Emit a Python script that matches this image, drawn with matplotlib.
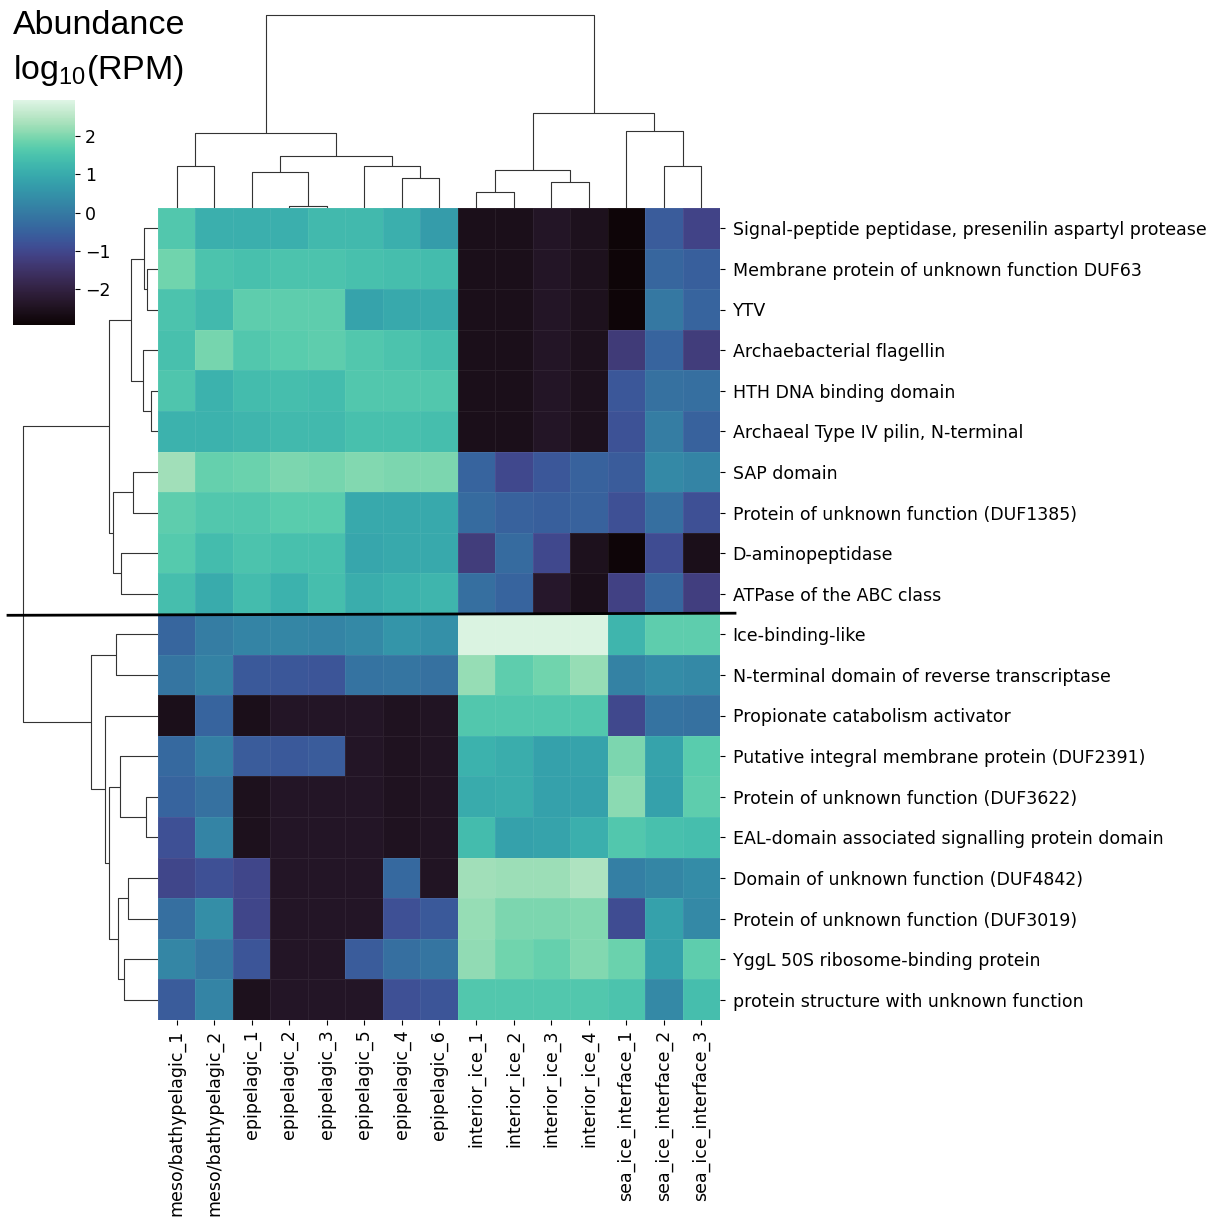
import numpy as np
import matplotlib.pyplot as plt
import seaborn as sns
from matplotlib.collections import LineCollection
from matplotlib.lines import Line2D

plt.rcParams['mathtext.default'] = 'regular'

# samples (columns) and protein domains (rows), in clustered order
samples = ['meso/bathypelagic_1', 'meso/bathypelagic_2', 'epipelagic_1', 'epipelagic_2',
           'epipelagic_3', 'epipelagic_5', 'epipelagic_4', 'epipelagic_6',
           'interior_ice_1', 'interior_ice_2', 'interior_ice_3', 'interior_ice_4',
           'sea_ice_interface_1', 'sea_ice_interface_2', 'sea_ice_interface_3']

domains = ['Signal-peptide peptidase, presenilin aspartyl protease',
           'Membrane protein of unknown function DUF63',
           'YTV',
           'Archaebacterial flagellin',
           'HTH DNA binding domain',
           'Archaeal Type IV pilin, N-terminal',
           'SAP domain',
           'Protein of unknown function (DUF1385)',
           'D-aminopeptidase',
           'ATPase of the ABC class',
           'Ice-binding-like',
           'N-terminal domain of reverse transcriptase',
           'Propionate catabolism activator',
           'Putative integral membrane protein (DUF2391)',
           'Protein of unknown function (DUF3622)',
           'EAL-domain associated signalling protein domain',
           'Domain of unknown function (DUF4842)',
           'Protein of unknown function (DUF3019)',
           'YggL 50S ribosome-binding protein',
           'protein structure with unknown function']

# log10(RPM)
abundance = np.array([
    [1.60, 1.10, 1.10, 1.10, 1.30, 1.30, 1.10, 0.70, -2.60, -2.60, -2.40, -2.55, -2.90, -0.60, -1.10],
    [1.90, 1.50, 1.45, 1.50, 1.50, 1.45, 1.40, 1.35, -2.60, -2.60, -2.40, -2.55, -2.90, -0.40, -0.55],
    [1.50, 1.30, 1.75, 1.75, 1.75, 0.85, 0.95, 1.00, -2.60, -2.60, -2.40, -2.55, -2.90, -0.05, -0.45],
    [1.45, 1.95, 1.60, 1.70, 1.75, 1.60, 1.50, 1.40, -2.60, -2.60, -2.40, -2.55, -1.30, -0.45, -1.25],
    [1.55, 1.15, 1.35, 1.40, 1.35, 1.60, 1.60, 1.60, -2.60, -2.60, -2.40, -2.55, -0.70, -0.20, -0.25],
    [1.15, 1.15, 1.20, 1.30, 1.30, 1.45, 1.45, 1.40, -2.60, -2.60, -2.40, -2.55, -0.80, 0.05, -0.50],
    [2.30, 1.80, 1.85, 2.00, 1.95, 2.05, 2.00, 2.00, -0.45, -1.00, -0.70, -0.50, -0.60, 0.30, 0.20],
    [1.75, 1.60, 1.60, 1.70, 1.70, 0.95, 0.95, 0.95, -0.30, -0.50, -0.55, -0.50, -0.85, -0.25, -0.85],
    [1.65, 1.35, 1.50, 1.45, 1.45, 0.90, 0.95, 0.95, -1.25, -0.30, -1.00, -2.55, -2.90, -0.90, -2.60],
    [1.40, 1.00, 1.35, 1.15, 1.40, 1.05, 1.15, 1.20, -0.25, -0.45, -2.35, -2.60, -1.15, -0.40, -1.20],
    [-0.40, 0.05, 0.20, 0.25, 0.20, 0.30, 0.55, 0.45, 2.90, 2.90, 2.90, 2.90, 1.20, 1.75, 1.75],
    [-0.10, 0.15, -0.65, -0.70, -0.75, -0.15, -0.10, -0.20, 2.20, 1.75, 1.90, 2.20, 0.15, 0.35, 0.30],
    [-2.60, -0.45, -2.60, -2.40, -2.40, -2.40, -2.50, -2.45, 1.60, 1.60, 1.60, 1.60, -1.00, -0.15, -0.20],
    [-0.35, 0.10, -0.60, -0.65, -0.60, -2.40, -2.50, -2.45, 1.15, 1.05, 0.80, 0.85, 2.00, 0.85, 1.70],
    [-0.45, -0.20, -2.55, -2.40, -2.40, -2.40, -2.50, -2.45, 1.00, 1.05, 0.80, 0.80, 2.10, 0.80, 1.75],
    [-0.85, 0.20, -2.55, -2.40, -2.40, -2.40, -2.50, -2.45, 1.35, 0.80, 0.85, 1.10, 1.60, 1.45, 1.40],
    [-1.05, -0.85, -1.05, -2.40, -2.40, -2.40, -0.35, -2.45, 2.30, 2.25, 2.25, 2.40, 0.10, 0.25, 0.35],
    [-0.25, 0.40, -1.05, -2.40, -2.40, -2.40, -0.85, -0.65, 2.20, 2.00, 2.00, 2.05, -0.90, 0.80, 0.30],
    [0.25, -0.05, -0.75, -2.40, -2.40, -0.60, -0.25, -0.10, 2.15, 1.90, 1.80, 2.05, 1.85, 0.80, 1.75],
    [-0.60, 0.20, -2.55, -2.40, -2.40, -2.40, -0.85, -0.75, 1.60, 1.60, 1.60, 1.60, 1.50, 0.30, 1.40],
])

# linkage: (left, right, distance); new clusters numbered from n_leaves upwards
col_links = [
    (3, 4, 2.3), (2, 15, 36), (6, 7, 30), (5, 17, 42), (16, 18, 52),
    (0, 1, 42), (20, 19, 75), (8, 9, 16), (10, 11, 26), (22, 23, 38),
    (13, 14, 42), (12, 25, 77), (24, 26, 95), (21, 27, 193),
]
row_links = [
    (1, 2, 11), (0, 20, 14), (4, 5, 7.3), (3, 22, 15.3), (21, 23, 27.3),
    (6, 7, 24.7), (8, 9, 36.7), (25, 26, 44.7), (24, 27, 49.3), (10, 11, 41.7),
    (14, 15, 12), (13, 30, 38.3), (16, 17, 30.3), (18, 19, 33.7), (32, 33, 40),
    (31, 34, 48.7), (12, 35, 52.7), (29, 36, 66.7), (28, 37, 134.7),
]


def tree_segments(links, n_leaves):
    pos = {i: 10 * i + 5 for i in range(n_leaves)}
    height = {i: 0.0 for i in range(n_leaves)}
    segs = []
    for k, (a, b, h) in enumerate(links):
        xa, xb = pos[a], pos[b]
        segs.append([(xa, height[a]), (xa, h), (xb, h), (xb, height[b])])
        pos[n_leaves + k] = (xa + xb) / 2
        height[n_leaves + k] = h
    return segs, max(height.values())


W, H = 1209, 1217
fig = plt.figure(figsize=(W / 100, H / 100), dpi=100)


def px_axes(x0, y0, x1, y1):
    return fig.add_axes([x0 / W, 1 - y1 / H, (x1 - x0) / W, (y1 - y0) / H])


cmap = sns.color_palette('mako', as_cmap=True)
n_rows, n_cols = abundance.shape
fs = 12.5

# heatmap
ax = px_axes(158, 208, 720, 1020)
mesh = ax.pcolormesh(abundance, cmap=cmap, vmin=-2.95, vmax=2.95,
                     edgecolors=(1, 1, 1, 0.06), linewidth=0.5)
ax.set_xlim(0, n_cols)
ax.set_ylim(n_rows, 0)
ax.set_xticks(np.arange(n_cols) + 0.5)
ax.set_xticklabels(samples, rotation=90, fontsize=fs)
ax.set_yticks(np.arange(n_rows) + 0.5)
ax.set_yticklabels(domains, fontsize=fs)
ax.yaxis.tick_right()
ax.tick_params(axis='y', pad=5.5)
for s in ax.spines.values():
    s.set_visible(False)

# column dendrogram
ax_col = px_axes(158, 0, 720, 208)
segs, top = tree_segments(col_links, n_cols)
ax_col.add_collection(LineCollection(segs, colors=(.2, .2, .2), linewidths=0.8))
ax_col.set_xlim(0, n_cols * 10)
ax_col.set_ylim(0, top * 1.05 * 208 / 203)
ax_col.axis('off')

# row dendrogram
ax_row = px_axes(16.6, 208, 158, 1020)
segs, top = tree_segments(row_links, n_rows)
segs = [[(y, x) for x, y in seg] for seg in segs]
ax_row.add_collection(LineCollection(segs, colors=(.2, .2, .2), linewidths=0.8))
ax_row.set_ylim(n_rows * 10, 0)
ax_row.set_xlim(top * 1.05, 0)
ax_row.axis('off')

# colour bar
ax_cbar = px_axes(13, 100, 75, 325)
cb = fig.colorbar(mesh, cax=ax_cbar, ticks=[-2, -1, 0, 1, 2])
cb.outline.set_visible(False)
ax_cbar.tick_params(labelsize=fs)
ax_cbar.set_title('Abundance\nlog$_{10}$(RPM)', loc='left', fontsize=24.5,
                  family='Liberation Sans', pad=15, linespacing=1.45)

# separator between the two domain groups
fig.add_artist(Line2D([8 / W, 735 / W], [1 - 615.3 / H, 1 - 613.2 / H],
                      color='black', linewidth=2))

fig.savefig('out.png', dpi=100)
